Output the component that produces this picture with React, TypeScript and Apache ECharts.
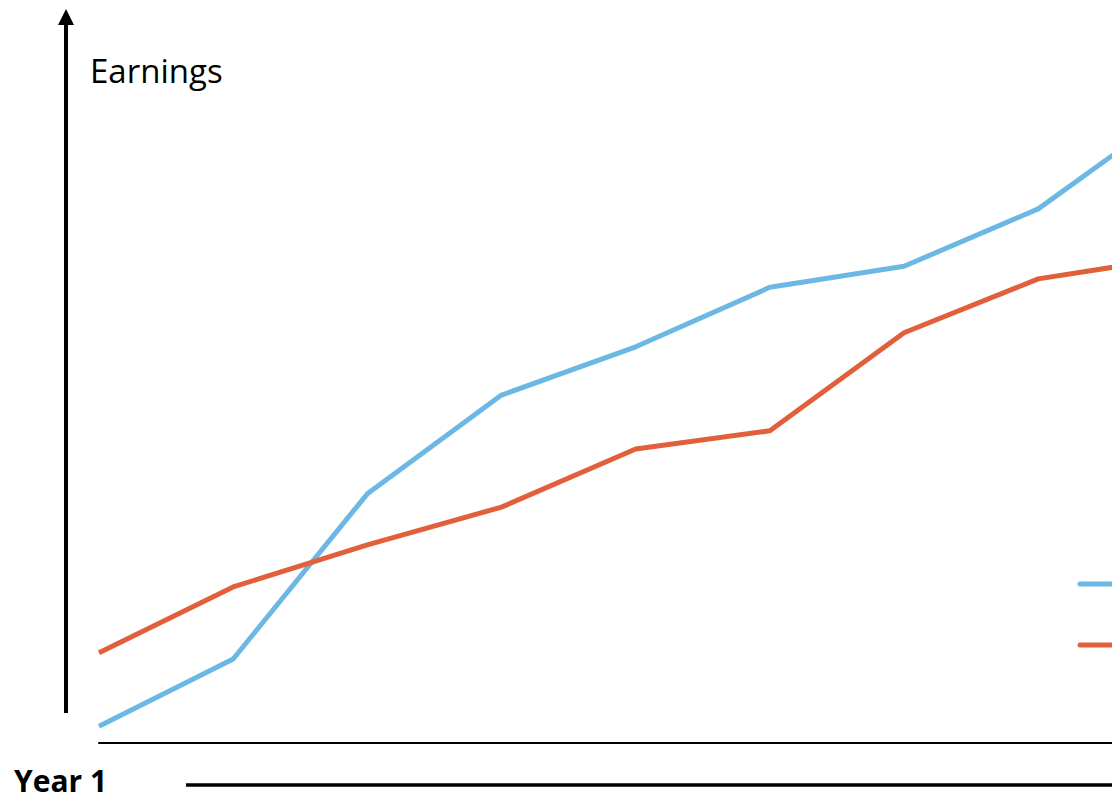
import React, { useEffect, useRef } from "react";
import * as echarts from "echarts";

const years = [0, 1, 2, 3, 4, 5, 6, 7, 8];
const seriesA = [2.4, 12.0, 35.6, 49.7, 56.6, 65.1, 68.1, 76.3, 90.1];
const seriesB = [12.9, 22.3, 28.3, 33.7, 42.0, 44.6, 58.6, 66.3, 69.3];
const yLabel = "Earnings";
const xLabel = "Year 1";

const BLUE = "#6cb8e5";
const RED = "#e25f3c";

export default function App() {
  const ref = useRef<HTMLDivElement>(null);
  useEffect(() => {
    if (!ref.current) return;
    const chart = echarts.init(ref.current, undefined, { renderer: "svg" });
    chart.setOption({
      animation: false,
      backgroundColor: "#ffffff",
      grid: { left: 99, right: 0, top: 43, bottom: 62 },
      xAxis: {
        type: "value",
        min: 0,
        max: 7.55,
        axisLine: { show: true, onZero: false, lineStyle: { color: "#000", width: 2 } },
        axisTick: { show: false },
        axisLabel: { show: false },
        splitLine: { show: false },
      },
      yAxis: {
        type: "value",
        min: 0,
        max: 100,
        axisLine: { show: false },
        axisTick: { show: false },
        axisLabel: { show: false },
        splitLine: { show: false },
      },
      series: [
        {
          type: "line",
          name: "A",
          data: years.map((x, i) => [x, seriesA[i]]),
          showSymbol: false,
          clip: true,
          lineStyle: { color: BLUE, width: 5 },
          itemStyle: { color: BLUE },
        },
        {
          type: "line",
          name: "B",
          data: years.map((x, i) => [x, seriesB[i]]),
          showSymbol: false,
          clip: true,
          lineStyle: { color: RED, width: 5 },
          itemStyle: { color: RED },
        },
      ],
      graphic: [
        {
          type: "line",
          shape: { x1: 66, y1: 713, x2: 66, y2: 22 },
          style: { stroke: "#000", lineWidth: 4 },
        },
        {
          type: "polygon",
          shape: { points: [[66, 9], [74, 25], [58, 25]] },
          style: { fill: "#000" },
        },
        {
          type: "text",
          left: 90,
          top: 54,
          style: {
            text: yLabel,
            font: '33px "Open Sans", "Noto Sans", sans-serif',
            fill: "#000",
          },
        },
        {
          type: "text",
          left: 14,
          top: 765,
          style: {
            text: xLabel,
            font: 'bold 30px "Open Sans", "Noto Sans", sans-serif',
            fill: "#000",
          },
        },
        {
          type: "line",
          shape: { x1: 186, y1: 785, x2: 1112, y2: 785 },
          style: { stroke: "#000", lineWidth: 3.5 },
        },
        {
          type: "line",
          shape: { x1: 1080, y1: 584, x2: 1112, y2: 584 },
          style: { stroke: BLUE, lineWidth: 5, lineCap: "round" },
        },
        {
          type: "line",
          shape: { x1: 1080, y1: 645, x2: 1112, y2: 645 },
          style: { stroke: RED, lineWidth: 5, lineCap: "round" },
        },
      ],
    });
    return () => chart.dispose();
  }, []);
  return (
    <div
      ref={ref}
      style={{ position: "fixed", left: 0, top: 0, width: 1112, height: 805 }}
    />
  );
}
